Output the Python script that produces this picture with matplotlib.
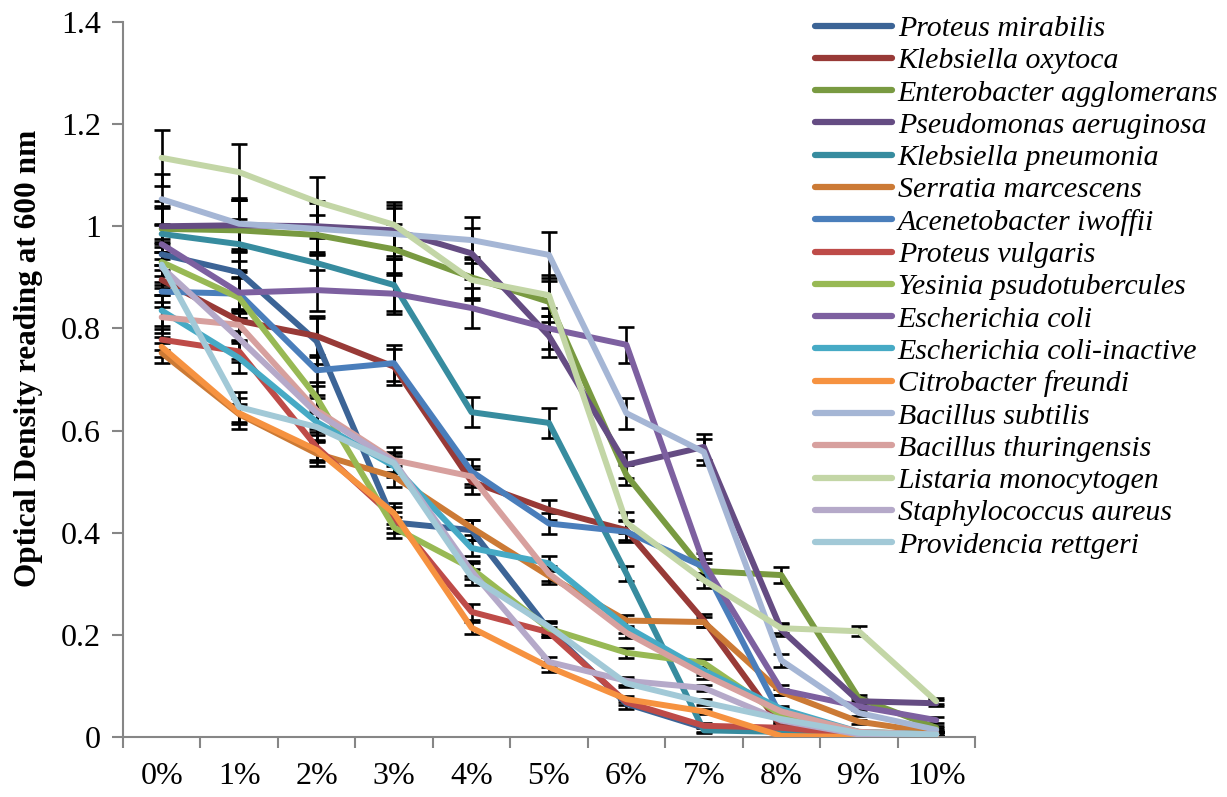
import numpy as np
import matplotlib
matplotlib.use('Agg')
import matplotlib.pyplot as plt
from matplotlib.ticker import FixedLocator, FuncFormatter

plt.rcParams['font.family'] = ['Liberation Serif', 'DejaVu Serif']

# ── data ─────────────────────────────────────────────
conc = ['0%', '1%', '2%', '3%', '4%', '5%', '6%', '7%', '8%', '9%', '10%']

names = ['Proteus mirabilis', 'Klebsiella oxytoca', 'Enterobacter agglomerans',
         'Pseudomonas aeruginosa', 'Klebsiella pneumonia', 'Serratia marcescens',
         'Acenetobacter iwoffii', 'Proteus vulgaris', 'Yesinia psudotubercules',
         'Escherichia coli', 'Escherichia coli-inactive', 'Citrobacter freundi',
         'Bacillus subtilis', 'Bacillus thuringensis', 'Listaria monocytogen',
         'Staphylococcus aureus', 'Providencia rettgeri']

p_mirabilis    = [0.945, 0.910, 0.775, 0.420, 0.405, 0.210, 0.065, 0.018, 0.010, 0.005, 0.005]
k_oxytoca      = [0.895, 0.815, 0.785, 0.725, 0.500, 0.445, 0.405, 0.228, 0.020, 0.008, 0.005]
e_agglomerans  = [0.995, 0.992, 0.983, 0.955, 0.900, 0.852, 0.513, 0.325, 0.317, 0.076, 0.018]
p_aeruginosa   = [1.000, 1.002, 1.000, 0.992, 0.947, 0.785, 0.533, 0.568, 0.210, 0.070, 0.066]
k_pneumonia    = [0.985, 0.965, 0.928, 0.885, 0.636, 0.615, 0.320, 0.013, 0.010, 0.005, 0.005]
s_marcescens   = [0.752, 0.632, 0.555, 0.510, 0.410, 0.315, 0.228, 0.225, 0.088, 0.030, 0.008]
a_iwoffii      = [0.872, 0.868, 0.718, 0.732, 0.520, 0.418, 0.402, 0.333, 0.040, 0.008, 0.005]
p_vulgaris     = [0.778, 0.755, 0.568, 0.430, 0.245, 0.205, 0.068, 0.022, 0.018, 0.005, 0.005]
y_pseudotb     = [0.930, 0.860, 0.665, 0.410, 0.330, 0.212, 0.165, 0.145, 0.042, 0.010, 0.005]
e_coli         = [0.965, 0.870, 0.875, 0.868, 0.840, 0.800, 0.768, 0.340, 0.092, 0.060, 0.033]
e_coli_inact   = [0.835, 0.742, 0.617, 0.530, 0.370, 0.340, 0.216, 0.130, 0.055, 0.010, 0.005]
c_freundi      = [0.764, 0.634, 0.562, 0.438, 0.214, 0.137, 0.074, 0.050, 0.002, 0.000, 0.000]
b_subtilis     = [1.053, 1.005, 0.995, 0.985, 0.973, 0.944, 0.634, 0.558, 0.150, 0.047, 0.014]
b_thuringensis = [0.822, 0.807, 0.640, 0.542, 0.510, 0.320, 0.204, 0.122, 0.050, 0.010, 0.005]
l_monocytogen  = [1.134, 1.106, 1.048, 1.003, 0.895, 0.865, 0.420, 0.307, 0.213, 0.207, 0.070]
s_aureus       = [0.920, 0.780, 0.634, 0.539, 0.325, 0.147, 0.110, 0.096, 0.032, 0.005, 0.005]
p_rettgeri     = [0.925, 0.646, 0.607, 0.536, 0.313, 0.216, 0.105, 0.068, 0.035, 0.008, 0.005]

# standard deviations
sd_p_mirabilis    = [0.030, 0.040, 0.045, 0.020, 0.020, 0.015, 0.010, 0.008, 0.005, 0.004, 0.004]
sd_k_oxytoca      = [0.030, 0.020, 0.040, 0.035, 0.025, 0.020, 0.020, 0.012, 0.006, 0.004, 0.004]
sd_e_agglomerans  = [0.045, 0.060, 0.040, 0.050, 0.040, 0.040, 0.020, 0.015, 0.015, 0.006, 0.004]
sd_p_aeruginosa   = [0.050, 0.050, 0.050, 0.050, 0.050, 0.040, 0.025, 0.025, 0.012, 0.006, 0.006]
sd_k_pneumonia    = [0.050, 0.050, 0.050, 0.050, 0.030, 0.030, 0.015, 0.006, 0.005, 0.004, 0.004]
sd_s_marcescens   = [0.020, 0.020, 0.025, 0.020, 0.015, 0.015, 0.010, 0.010, 0.006, 0.004, 0.004]
sd_a_iwoffii      = [0.030, 0.030, 0.030, 0.035, 0.025, 0.020, 0.020, 0.015, 0.006, 0.004, 0.004]
sd_p_vulgaris     = [0.020, 0.020, 0.030, 0.020, 0.015, 0.010, 0.006, 0.005, 0.005, 0.004, 0.004]
sd_y_pseudotb     = [0.040, 0.040, 0.030, 0.020, 0.015, 0.012, 0.010, 0.008, 0.006, 0.004, 0.004]
sd_e_coli         = [0.040, 0.040, 0.040, 0.040, 0.040, 0.040, 0.035, 0.020, 0.010, 0.006, 0.006]
sd_e_coli_inact   = [0.030, 0.030, 0.025, 0.020, 0.015, 0.015, 0.012, 0.008, 0.006, 0.004, 0.004]
sd_c_freundi      = [0.020, 0.030, 0.020, 0.020, 0.012, 0.010, 0.006, 0.005, 0.004, 0.004, 0.004]
sd_b_subtilis     = [0.050, 0.050, 0.050, 0.050, 0.045, 0.045, 0.030, 0.025, 0.012, 0.006, 0.004]
sd_b_thuringensis = [0.030, 0.030, 0.030, 0.025, 0.020, 0.015, 0.010, 0.008, 0.006, 0.004, 0.004]
sd_l_monocytogen  = [0.055, 0.055, 0.048, 0.045, 0.040, 0.040, 0.020, 0.015, 0.010, 0.010, 0.006]
sd_s_aureus       = [0.040, 0.040, 0.030, 0.020, 0.015, 0.010, 0.008, 0.006, 0.005, 0.004, 0.004]
sd_p_rettgeri     = [0.040, 0.030, 0.030, 0.020, 0.015, 0.012, 0.008, 0.006, 0.005, 0.004, 0.004]

colors = ['#3C6496', '#983A37', '#799A41', '#654C83', '#378C9F', '#CC7A35',
          '#4A7EBB', '#BE4B48', '#98B954', '#7D60A0', '#46AAC5', '#F69240',
          '#A5B6D5', '#D7A09E', '#C3D6A6', '#B5A9C9', '#A2C9D7']

series = [p_mirabilis, k_oxytoca, e_agglomerans, p_aeruginosa, k_pneumonia,
          s_marcescens, a_iwoffii, p_vulgaris, y_pseudotb, e_coli, e_coli_inact,
          c_freundi, b_subtilis, b_thuringensis, l_monocytogen, s_aureus, p_rettgeri]
errors = [sd_p_mirabilis, sd_k_oxytoca, sd_e_agglomerans, sd_p_aeruginosa,
          sd_k_pneumonia, sd_s_marcescens, sd_a_iwoffii, sd_p_vulgaris,
          sd_y_pseudotb, sd_e_coli, sd_e_coli_inact, sd_c_freundi, sd_b_subtilis,
          sd_b_thuringensis, sd_l_monocytogen, sd_s_aureus, sd_p_rettgeri]

# ── plot ─────────────────────────────────────────────
fig = plt.figure(figsize=(12.27, 7.97), dpi=100)
ax = fig.add_axes([0.1002, 0.0753, 0.6944, 0.8971])

x = np.arange(len(conc))
for y, e in zip(series, errors):
    ax.errorbar(x, y, yerr=e, fmt='none', ecolor='black', elinewidth=1.9,
                capsize=6, capthick=1.9, zorder=2)
for i, (y, c, n) in enumerate(zip(series, colors, names)):
    ax.plot(x, y, color=c, lw=4.3, label=n, solid_capstyle='round',
            solid_joinstyle='round', zorder=3 + i * 0.01)

ax.set_xlim(-0.5, len(conc) - 0.5)
ax.set_ylim(0, 1.4)

# category boundaries carry the ticks, labels sit at the centres
ax.xaxis.set_major_locator(FixedLocator(np.arange(-0.5, len(conc), 1.0)))
ax.xaxis.set_major_formatter(FuncFormatter(lambda v, p: ''))
ax.xaxis.set_minor_locator(FixedLocator(x))
ax.set_xticklabels(conc, minor=True)
ax.tick_params(axis='x', which='major', direction='out', length=8, width=1.5,
               color='#868686')
ax.tick_params(axis='x', which='minor', length=0, pad=18, labelsize=23)

ax.set_yticks(np.arange(0, 1.41, 0.2))
ax.yaxis.set_major_formatter(FuncFormatter(lambda v, p: '%g' % round(v, 1)))
ax.tick_params(axis='y', direction='out', length=8, width=1.5, color='#868686',
               labelsize=23, pad=8)

for s in ['top', 'right']:
    ax.spines[s].set_visible(False)
for s in ['left', 'bottom']:
    ax.spines[s].set_color('#868686')
    ax.spines[s].set_linewidth(1.5)

ax.set_ylabel('Optical Density reading at 600 nm', fontsize=22.5, fontweight='bold')
ax.yaxis.set_label_coords(-0.094, 0.53)

leg = ax.legend(loc='upper left', bbox_to_anchor=(0.664, 0.981),
                bbox_transform=fig.transFigure, frameon=False,
                prop={'style': 'italic', 'size': 21.5}, handlelength=2.6,
                handletextpad=0.18, labelspacing=0.18, borderaxespad=0,
                borderpad=0)
for line in leg.get_lines():
    line.set_linewidth(4.5)

fig.savefig('out.png', dpi=100)
